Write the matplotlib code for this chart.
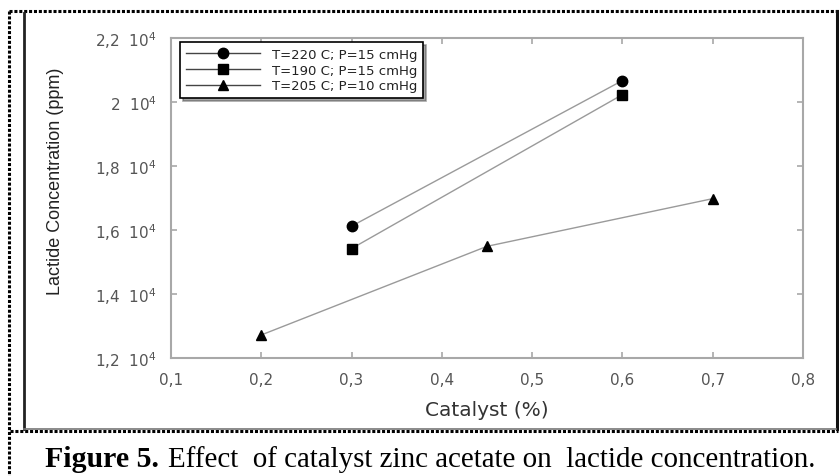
import matplotlib
matplotlib.use("Agg")
import matplotlib.pyplot as plt
from matplotlib.lines import Line2D
from matplotlib.ticker import FixedLocator, FixedFormatter

# ---- data ----
x_220 = [0.3, 0.6]
y_220 = [16120, 20670]
x_190 = [0.3, 0.6]
y_190 = [15420, 20230]
x_205 = [0.2, 0.45, 0.7]
y_205 = [12720, 15490, 16980]
labels = ["T=220 C; P=15 cmHg", "T=190 C; P=15 cmHg", "T=205 C; P=10 cmHg"]
xticks = [0.1, 0.2, 0.3, 0.4, 0.5, 0.6, 0.7, 0.8]
xticklabels = ["0,1", "0,2", "0,3", "0,4", "0,5", "0,6", "0,7", "0,8"]
yticks = [12000, 14000, 16000, 18000, 20000, 22000]
yticklabels = ["1,2  10$^{4}$", "1,4  10$^{4}$", "1,6  10$^{4}$", "1,8  10$^{4}$",
               "2  10$^{4}$", "2,2  10$^{4}$"]

W, H = 839, 477
fig = plt.figure(figsize=(W / 100, H / 100), dpi=100)
plt.rcParams["mathtext.fontset"] = "dejavusans"

ax = fig.add_axes([171 / W, 1 - 359 / H, (803 - 171) / W, (359 - 39) / H])

lc = "#9a9a9a"
ax.plot(x_220, y_220, color=lc, lw=1.0, marker="o", ms=7.5, mfc="black", mec="black", label=labels[0])
ax.plot(x_190, y_190, color=lc, lw=1.0, marker="s", ms=7, mfc="black", mec="black", label=labels[1])
ax.plot(x_205, y_205, color=lc, lw=1.0, marker="^", ms=7, mfc="black", mec="black", label=labels[2])

ax.set_xlim(0.1, 0.8)
ax.set_ylim(12000, 22000)
ax.xaxis.set_major_locator(FixedLocator(xticks))
ax.xaxis.set_major_formatter(FixedFormatter(xticklabels))
ax.yaxis.set_major_locator(FixedLocator(yticks))
ax.yaxis.set_major_formatter(FixedFormatter(yticklabels))

for s in ax.spines.values():
    s.set_color("#a8a8a8")
    s.set_linewidth(1.5)
ax.tick_params(direction="in", top=True, right=True, length=4.5, width=1.2,
               color="#a8a8a8", labelcolor="#555555", labelsize=11, pad=10)
for t in ax.get_xticklabels() + ax.get_yticklabels():
    t.set_family(["DejaVu Sans"])

leg = ax.legend(loc="upper left", bbox_to_anchor=(9 / 632, 1 - 4 / 320), frameon=True,
                fancybox=False, shadow=True, handlelength=5.6,
                borderpad=0.45, labelspacing=0.2, handletextpad=0.9, borderaxespad=0,
                prop={"family": ["DejaVu Sans"], "size": 9.5})
leg.get_frame().set_edgecolor("black")
leg.get_frame().set_linewidth(1.2)
for h in leg.legend_handles:
    h.set_color("#444444")
    h.set_markerfacecolor("black")
    h.set_markeredgecolor("black")
for t in leg.get_texts():
    t.set_color("#222222")

# axis labels
fig.text(55 / W, 1 - 181 / H, "Lactide Concentration (ppm)", rotation=90, ha="center", va="center",
         fontsize=13, color="#222222", family=["Liberation Sans", "DejaVu Sans"])
fig.text(487 / W, 1 - 411 / H, "Catalyst (%)", ha="center", va="center",
         fontsize=14.5, color="#333333", family=["DejaVu Sans"])

# frames
def fline(xs, ys, **kw):
    fig.add_artist(Line2D([x / W for x in xs], [1 - y / H for y in ys], transform=fig.transFigure, **kw))

dot = dict(color="black", lw=2.2, linestyle=(0, (1.0, 0.6)))
fline([9, 838], [12, 12], **dot)
fline([9, 9], [12, 477], **dot)
fline([10, 838], [432, 432], **dot)
fline([24, 24], [14, 430], color="#222222", lw=2.0)
fline([836.5, 836.5], [12, 430], color="#111111", lw=2.2)
fline([24, 836], [430, 430], color="#777777", lw=1.2)

# caption
fig.text(45 / W, 1 - 467 / H, "Figure 5.", ha="left", va="baseline", fontsize=21.5, fontweight="bold",
         family=["Liberation Serif", "DejaVu Serif"])
fig.text(168 / W, 1 - 467 / H, "Effect  of catalyst zinc acetate on  lactide concentration.",
         ha="left", va="baseline", fontsize=20.9, family=["Liberation Serif", "DejaVu Serif"])

fig.savefig("out.png", dpi=100)
